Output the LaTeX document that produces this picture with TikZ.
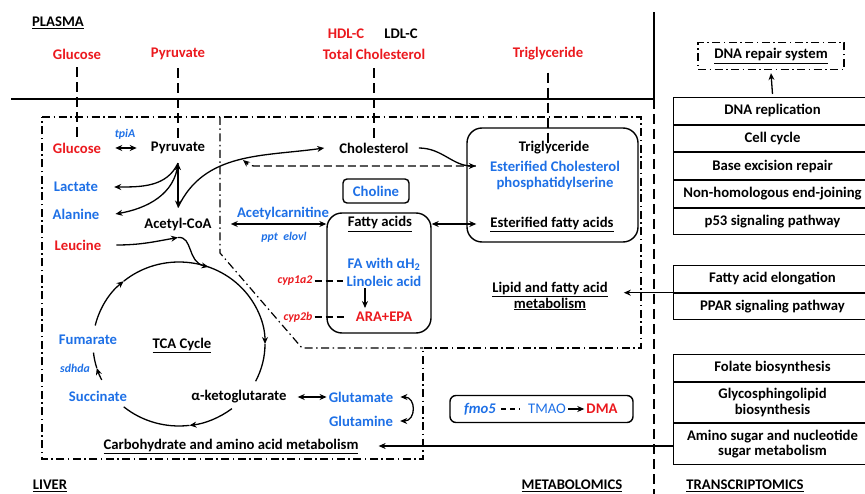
\documentclass[tikz,border=0pt]{standalone}
\usepackage{fontspec}
\setmainfont{Carlito}
\usetikzlibrary{arrows.meta, positioning, calc}
\definecolor{metred}{RGB}{235, 25, 30}
\definecolor{metblue}{RGB}{30, 112, 230}

\begin{document}
\begin{tikzpicture}[
    x=1pt, y=1pt,
    font=\fontsize{14.7}{16}\selectfont\bfseries,
    met/.style={inner sep=2pt, align=center},
    redmet/.style={met, text=metred},
    bluemet/.style={met, text=metblue},
    gene/.style={met, font=\fontsize{11.8}{13}\selectfont\bfseries\itshape},
    arr/.style={-{Stealth[length=7pt, width=6pt]}, line width=1.3pt},
    darr/.style={{Stealth[length=7pt, width=6pt]}-{Stealth[length=7pt, width=6pt]}, line width=1.3pt},
    drop/.style={dash pattern=on 10pt off 5pt, line width=1.3pt},
    cutdash/.style={dash pattern=on 7pt off 4pt, line width=1.3pt},
    region/.style={dash pattern=on 8pt off 3.5pt on 1.5pt off 3.5pt, line width=1.2pt},
    rbox/.style={draw, rounded corners=15pt, line width=1.4pt},
    tagbox/.style={draw, rounded corners=4pt, line width=1.4pt, inner sep=2pt},
    trow/.style={draw, line width=1pt, minimum width=198pt, minimum height=26.7pt,
                 align=center, inner sep=1pt},
    trowtwo/.style={trow, minimum height=40.5pt, font=\fontsize{14.7}{15.5}\selectfont\bfseries}
]
\useasboundingbox (0,0) rectangle (865,-494);
\clip (0,0) rectangle (865,-494);

% =========== PLASMA ===========
\node[met]    (plasma) at (58,-23)  {\underline{PLASMA}};
\node[redmet] (pglc)   at (77,-54)  {Glucose};
\node[redmet] (ppyr)   at (178,-54) {Pyruvate};
\node[redmet] (phdl)   at (346,-34) {HDL-C};
\node[met]    (pldl)   at (401,-34) {LDL-C};
\node[redmet] (ptc)    at (374,-54) {Total Cholesterol};
\node[redmet] (ptg)    at (548,-54) {Triglyceride};

\draw[line width=1.3pt] (11,-99) -| (654,-12);
\draw[drop] (654,-99) -- (654,-494);

% =========== LIVER: regions ===========
\draw[region] (42,-117) -- (641,-117) -- (641,-348) -- (423,-348)
              -- (423,-459) -- (42,-459) -- cycle;
\draw[region] (220,-117) -- (220,-253) -- (302,-348) -- (423,-348);

% =========== carbohydrate and amino acid metabolism ===========
\node[redmet]  (lglc) at (77,-148)  {Glucose};
\node[gene, text=metblue] (tpia) at (125,-134) {tpiA};
\node[met]     (lpyr) at (178,-148) {Pyruvate};
\node[bluemet] (lac)  at (76,-187)  {Lactate};
\node[bluemet] (ala)  at (76,-214)  {Alanine};
\node[met]     (acoa) at (178,-224) {Acetyl-CoA};
\node[redmet]  (leu)  at (78,-245)  {Leucine};

\coordinate (pyrbot)  at ([yshift=-7pt]lpyr.south);
\coordinate (acoatop) at ([yshift=8pt]acoa.north);
\coordinate (acoabot) at ([yshift=-5pt]acoa.south);

\draw[drop] ([yshift=-6pt]pglc.south) -- (lglc.north);
\draw[drop] ([yshift=-6pt]ppyr.south) -- (lpyr.north);
\draw[darr] ([xshift=12pt]lglc.east) -- ([xshift=-12pt]lpyr.west);
\draw[arr] (pyrbot) to[out=-115, in=0] ([xshift=14pt]lac.east);
\draw[arr] (pyrbot) to[out=-95, in=10] ([xshift=14pt]ala.east);
\draw[darr] (pyrbot) -- (acoatop);
\draw[arr] ([xshift=13pt]leu.east) to[out=0, in=190] (acoabot);

% TCA cycle
\coordinate (tca) at (179,-344);
\coordinate (tcain) at ([shift={(70:86 and 82)}]tca);
\node[met] (tcalbl) at (182,-345) {\underline{TCA Cycle}};
\draw[arr] (acoabot) .. controls (193,-236) and (187,-262) .. (tcain);
\draw[arr] ([shift={(167:86 and 82)}]tca) arc[start angle=167, end angle=130, x radius=86, y radius=82];
\draw[arr] ([shift={(130:86 and 82)}]tca) arc[start angle=130, end angle=0, x radius=86, y radius=82];
\draw[line width=1.3pt] ([shift={(0:86 and 82)}]tca) arc[start angle=0, end angle=-27, x radius=86, y radius=82];
\draw[arr] ([shift={(-52:86 and 82)}]tca) arc[start angle=-52, end angle=-83, x radius=86, y radius=82];
\draw[line width=1.3pt] ([shift={(-83:86 and 82)}]tca) arc[start angle=-83, end angle=-130, x radius=86, y radius=82];
\draw[arr] ([shift={(206:86 and 82)}]tca) arc[start angle=206, end angle=197, x radius=86, y radius=82];
\draw[line width=1.3pt] ([shift={(197:86 and 82)}]tca) arc[start angle=197, end angle=186, x radius=86, y radius=82];

\node[bluemet] (fum) at (88,-340)  {Fumarate};
\node[gene, text=metblue] (sdh) at (75,-368) {sdhda};
\node[bluemet] (suc) at (98,-396)  {Succinate};
\node[met]     (akg) at (239,-397) {α-ketoglutarate};
\node[bluemet] (glu) at (361,-397) {Glutamate};
\node[bluemet] (gln) at (361,-421) {Glutamine};
\node[met]     (carbo) at (231,-446) {\underline{Carbohydrate and amino acid metabolism}};

\draw[darr] ([xshift=9pt]akg.east) -- (glu.west);
\draw[darr] ([xshift=5pt]glu.east) to[out=0, in=0, looseness=1.7] ([xshift=5pt]gln.east);

% =========== lipid and fatty acid metabolism ===========
\node[met] (chol) at (374,-148) {Cholesterol};
\draw[drop] ([yshift=-7pt]ptc.south) -- (chol.north);

\node[rbox, minimum width=171pt, minimum height=114pt] (tgbox) at (552.5,-185) {};
\node[met]     (tg)   at (554,-148) {Triglyceride};
\node[bluemet] (tgec) at (555,-166) {Esterified Cholesterol};
\node[bluemet] (tgps) at (555,-183) {phosphatidylserine};
\node[met]     (efa)  at (552,-224) {\underline{Esterified fatty acids}};
\draw[drop] ([yshift=-10pt]ptg.south) -- ([yshift=-4pt]ptg.south |- tg.north);

\node[tagbox, minimum width=66pt, minimum height=24pt, text=metblue] (chln) at (376,-191) {Choline};

\node[rbox, minimum width=104pt, minimum height=120pt] (fabox) at (379,-273) {};
\node[met]     (fa)   at (380,-224) {\underline{Fatty acids}};
\node[bluemet] (faah) at (384,-264) {FA with αH\textsubscript{2}};
\node[bluemet] (lino) at (384,-281) {Linoleic acid};
\node[redmet]  (ara)  at (384,-317) {ARA+EPA};
\draw[arr] ([xshift=-19pt]lino.south) -- ([xshift=-19pt, yshift=2pt]ara.north);

\node[gene, text=metred] (cyp1) at (295,-281) {cyp1a2};
\node[gene, text=metred] (cyp2) at (298,-317) {cyp2b};
\draw[cutdash] (cyp1.east) -- ([xshift=-1pt]lino.west);
\draw[cutdash] (cyp2.east) -- ([xshift=-8pt]ara.west);

\node[bluemet] (acar) at (283,-213) {Acetylcarnitine};
\node[gene, text=metblue] (ppt) at (284,-237) {ppt\ \ elovl};
\draw[darr] (fabox.west |- fa) -- ([xshift=17pt]acoa.east);
\draw[darr] (fabox.east |- efa) -- ([xshift=-12pt]efa.west);

\coordinate (cholback) at (243,-160);
\draw[arr] (acoatop) to[out=65, in=188] ([xshift=-13pt]chol.west);
\draw[arr] ([xshift=8pt]chol.east) to[out=0, in=180] ([xshift=-12pt]tgec.west);
\draw[arr, dash pattern=on 8pt off 4pt] ([xshift=-12pt]tgec.west) -- (254,-166) to[out=180, in=-40] (cholback);

\node[met] (lipid) at (550,-296) {\underline{Lipid and fatty acid}\\\underline{metabolism}};

% =========== METABOLOMICS ===========
\node[tagbox, minimum width=183pt, minimum height=27pt, rounded corners=6pt] (fmobox) at (541.5,-409) {};
\node[met, text=metblue, font=\fontsize{14.7}{16}\selectfont\bfseries\itshape] (fmo) at (480,-409) {fmo5};
\node[bluemet, font=\fontsize{14.7}{16}\selectfont\mdseries] (tmao) at (547,-409) {TMAO};
\node[redmet]  (dma)  at (602,-409) {DMA};
\draw[dash pattern=on 5pt off 4pt, line width=1.3pt] ([xshift=3pt]fmo.east) -- ([xshift=-6pt]tmao.west);
\draw[arr] (tmao.east) -- (dma.west);

% =========== TRANSCRIPTOMICS ===========
\node[region, draw, minimum width=146pt, minimum height=27pt, inner sep=2pt] (dnasys) at (771,-56) {\underline{DNA repair system}};

\node[trow, anchor=north west] (dnarep) at (673,-97) {DNA replication};
\node[trow, below=0pt of dnarep]  (cellcyc) {Cell cycle};
\node[trow, below=0pt of cellcyc] (ber)     {Base excision repair};
\node[trow, below=0pt of ber]     (nhej)    {Non-homologous end-joining};
\node[trow, below=0pt of nhej]    (ptf)     {p53 signaling pathway};

\node[trow, anchor=north west] (fae) at (673,-265) {Fatty acid elongation};
\node[trow, below=0pt of fae]  (ppar) {PPAR signaling pathway};

\node[trow, anchor=north west] (folate) at (673,-354) {Folate biosynthesis};
\node[trowtwo, below=0pt of folate] (gsl)   {Glycosphingolipid\\biosynthesis};
\node[trowtwo, below=0pt of gsl]    (amino) {Amino sugar and nucleotide\\sugar metabolism};

\draw[arr] ([yshift=3pt]dnarep.north) -- ([yshift=-3pt]dnasys.south);

\coordinate (lipin)  at ([xshift=14pt]lipid.east);
\coordinate (carboin) at ([xshift=18pt]carbo.east);
\draw[arr] (fae.south west) -- (fae.south west -| lipin);
\draw[arr] (amino.west |- carboin) -- (carboin);

% =========== section labels ===========
\node[met] (liver) at (50,-486)  {\underline{LIVER}};
\node[met] (metab) at (572,-486) {\underline{METABOLOMICS}};
\node[met] (trans) at (745,-486) {\underline{TRANSCRIPTOMICS}};

\end{tikzpicture}
\end{document}
